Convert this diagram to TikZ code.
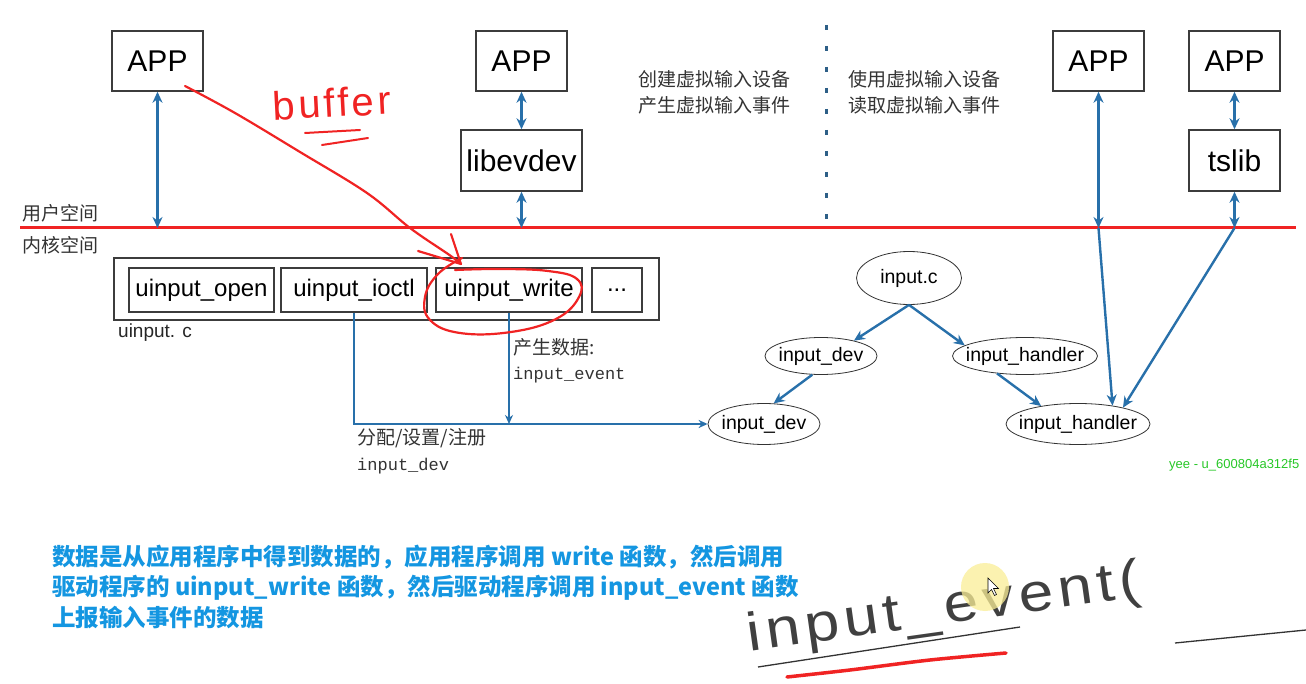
\documentclass[tikz,border=0pt]{standalone}
\usepackage{fontspec}
\setmainfont{Liberation Sans}
\newfontfamily\cjk{Noto Sans CJK SC}
\newfontfamily\monof{Liberation Mono}
\newfontfamily\handf{Liberation Sans}[LetterSpace=8]
\usetikzlibrary{arrows.meta,shapes.geometric,calc}
\definecolor{ablue}{RGB}{40,112,170}
\definecolor{redl}{RGB}{240,35,35}
\definecolor{boxc}{RGB}{60,60,60}
\definecolor{txtblue}{RGB}{20,150,225}
\definecolor{dotc}{RGB}{45,95,135}
\definecolor{wm}{RGB}{40,200,40}
\definecolor{hl}{RGB}{250,238,150}
\tikzset{
  box/.style={draw=boxc, line width=1.5pt, rectangle, inner sep=0pt, font=\fontsize{30}{30}\selectfont},
  fbox/.style={draw=boxc, line width=1.2pt, rectangle, inner sep=0pt, minimum height=44pt, font=\fontsize{24}{24}\selectfont},
  ell/.style={draw=black!80, line width=0.8pt, ellipse, inner sep=0pt, font=\fontsize{19.5}{19.5}\selectfont},
  tipb/.tip={Stealth[length=11pt,width=10pt]},
  tips/.tip={Stealth[length=9pt,width=8pt]},
  dbl/.style={ablue, line width=2.6pt, tipb-tipb},
  one/.style={ablue, line width=2.4pt, -tipb},
  onethin/.style={ablue, line width=1.6pt, -tips},
  cjklab/.style={font=\cjk\fontsize{19}{19}\selectfont, text=black!80, inner sep=0pt, anchor=west},
  monolab/.style={font=\monof\fontsize{17}{17}\selectfont, text=black!80, inner sep=0pt, anchor=west},
  bluetxt/.style={font=\cjk\bfseries\fontsize{23.5}{23.5}\selectfont, text=txtblue, inner sep=0pt, anchor=base west},
  redpen/.style={redl, line width=2.2pt, line cap=round, line join=round},
}
\begin{document}
\begin{tikzpicture}[x=1pt,y=-1pt]
\useasboundingbox (0,0) rectangle (1306,684);
\fill[white] (0,0) rectangle (1306,684);

% red separator
\coordinate (rl) at (20,228);
\coordinate (rr) at (1296,228);
\draw[redl, line width=3pt] (rl) -- (rr);
\node[cjklab] (us) at (22,213) {用户空间};
\node[cjklab] (ks) at (22,245) {内核空间};

% dotted divider
\coordinate (dt) at (826,25);
\coordinate (db) at (826,222);
\draw[dotc, line width=3pt, dash pattern=on 5pt off 16pt] (dt) -- (db);

% user boxes
\node[box, minimum width=91pt, minimum height=60pt] (app1) at (157.5,61) {APP};
\node[box, minimum width=91pt, minimum height=60pt] (app2) at (521.5,61) {APP};
\node[box, minimum width=121pt, minimum height=61pt] (lib) at (521.5,160.5) {libevdev};
\node[box, minimum width=91pt, minimum height=60pt] (app3) at (1098.5,61) {APP};
\node[box, minimum width=91pt, minimum height=60pt] (app4) at (1234.5,61) {APP};
\node[box, minimum width=91pt, minimum height=61pt] (ts) at (1234.5,160.5) {tslib};

\node[cjklab] (t1) at (638,79) {创建虚拟输入设备};
\node[cjklab] (t2) at (638,105) {产生虚拟输入事件};
\node[cjklab] (t3) at (848,79) {使用虚拟输入设备};
\node[cjklab] (t4) at (848,105) {读取虚拟输入事件};

\coordinate (j1) at (app1.south |- rl);
\coordinate (j2) at (lib.south |- rl);
\coordinate (j3) at (app3.south |- rl);
\coordinate (j4) at (ts.south |- rl);
\draw[dbl] (app1.south) -- (j1);
\draw[dbl] (app2.south) -- (lib.north);
\draw[dbl] (lib.south) -- (j2);
\draw[dbl] (app3.south) -- (j3);
\draw[dbl] (app4.south) -- (ts.north);
\draw[dbl] (ts.south) -- (j4);

% uinput.c
\node[draw=boxc, line width=1.5pt, rectangle, inner sep=0pt, minimum width=545pt, minimum height=62pt] (outer) at (386.5,289) {};
\node[fbox, minimum width=145pt] (open) at (201.5,290) {uinput\_open};
\node[fbox, minimum width=146pt] (ioctl) at (354,290) {uinput\_ioctl};
\node[fbox, minimum width=146pt] (write) at (509,290) {uinput\_write};
\node[fbox, minimum width=50pt] (dots) at (617,290) {...};
\node[anchor=west, inner sep=0pt, font=\fontsize{19}{19}\selectfont, text=black!85] (uc) at (118,333) {uinput. c};

% input core ellipses
\node[ell, minimum width=105pt, minimum height=53pt] (ic) at (909,278) {\makebox[0pt]{input.c}};
\node[ell, minimum width=112pt, minimum height=37pt] (idev1) at (821,356) {\makebox[0pt]{input\_dev}};
\node[ell, minimum width=145pt, minimum height=37pt] (ihand1) at (1025,356) {\makebox[0pt]{input\_handler}};
\node[ell, minimum width=112pt, minimum height=41pt] (idev2) at (764,424) {\makebox[0pt]{input\_dev}};
\node[ell, minimum width=144pt, minimum height=41pt] (ihand2) at (1078,424) {\makebox[0pt]{input\_handler}};

\draw[one] (ic.south) -- (idev1.25);
\draw[one] (ic.south) -- (ihand1.170);
\draw[one] (idev1.245) -- (idev2.65);
\draw[one] (ihand1.212) -- (ihand2.154);
\draw[one] (j3) -- (ihand2.28);
\draw[one] (j4) -- (ihand2.20);

\draw[onethin] (ioctl.south) |- (idev2.west);
\draw[onethin] (write.south) -- (write.south |- idev2.west);

\node[cjklab] (gen) at (513,347) {产生数据:};
\node[monolab] (ie) at (513,375) {input\_event};
\node[cjklab] (alloc) at (357,438) {分配/设置/注册};
\node[monolab] (id) at (357,466) {input\_dev};

\node[anchor=west, inner sep=0pt, font=\fontsize{13}{13}\selectfont, text=wm] (wmk) at (1169,465) {yee - u\_600804a312f5};

% bottom explanation
\node[bluetxt] (b1) at (52,565) {数据是从应用程序中得到数据的，应用程序调用 write 函数，然后调用};
\node[bluetxt] (b2) at (52,595.5) {驱动程序的 uinput\_write 函数，然后驱动程序调用 input\_event 函数};
\node[bluetxt] (b3) at (52,626) {上报输入事件的数据};

% red hand annotations
\draw[redpen] plot[smooth, tension=0.6] coordinates {(185,86) (235,113) (300,152) (367,193) (410,228) (448,254) (460,263)};
\draw[redpen] (451,234) -- (461,264) -- (418,251);
\draw[redpen] plot[smooth, tension=0.7] coordinates {(462,258) (438,274) (425,297) (430,320) (460,333) (511,332) (556,319) (579,297) (577,279) (548,271) (500,269) (455,270)};
\node[anchor=west, inner sep=0pt, text=redl, font=\handf\fontsize{40}{40}\selectfont, rotate=3] (buf) at (273,106) {buffer};
\draw[redpen, line width=2pt] (305,133) -- (360,130);
\draw[redpen, line width=2pt] (322,145) -- (368,138);

% handwriting input_event(
\node[inner sep=0pt, text=black!75, font=\handf\fontsize{54}{54}\selectfont, rotate=8, xscale=1.15] (hw) at (944,610) {input\_event(};
\draw[black!80, line width=1.3pt] (758,667) -- (1020,627);
\draw[black!80, line width=1.3pt] (1175,643) -- (1306,630);
\draw[redl, line width=3.5pt, line cap=round] plot[smooth] coordinates {(787,677) (850,670) (930,660) (1006,653)};

% cursor highlight
\fill[hl, opacity=0.75] (985,587) circle (24);
\draw[fill=white, line width=0.6pt] (988,578) -- ++(0,15) -- ++(3.5,-3.5) -- ++(3,6) -- ++(2,-1) -- ++(-3,-6) -- ++(5,0) -- cycle;
\end{tikzpicture}
\end{document}
